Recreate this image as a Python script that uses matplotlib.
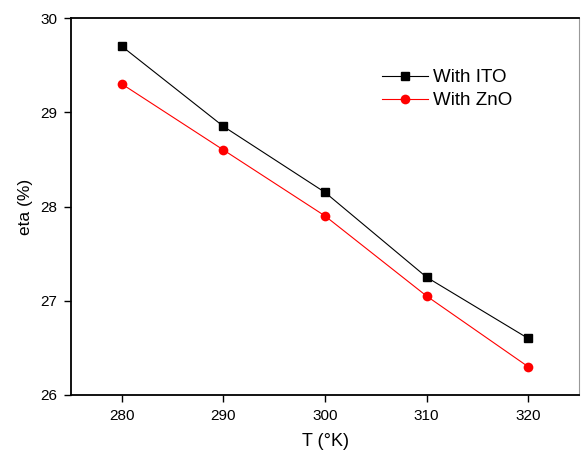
import matplotlib
matplotlib.use("Agg")
import matplotlib.pyplot as plt

plt.rcParams['font.family'] = ['Liberation Sans', 'DejaVu Sans']

# temperature (K) and efficiency (%) for both electrodes
temp = [280, 290, 300, 310, 320]
eta_ito = [29.70, 28.85, 28.15, 27.25, 26.60]
eta_zno = [29.30, 28.60, 27.90, 27.05, 26.30]

fig = plt.figure(figsize=(5.82, 4.55), dpi=100)
ax = fig.add_axes([71 / 582, 60 / 455, 508 / 582, 377 / 455])

ax.plot(temp, eta_ito, color='black', lw=0.8, marker='s', ms=6,
        label='With ITO')
ax.plot(temp, eta_zno, color='red', lw=0.8, marker='o', ms=7,
        markeredgewidth=0, label='With ZnO')

ax.set_xlim(275, 325)
ax.set_ylim(26, 30)
ax.set_xticks(temp)
ax.set_yticks([26, 27, 28, 29, 30])

for side in ['left', 'bottom']:
    ax.spines[side].set_linewidth(1.3)
ax.spines['top'].set_linewidth(1.3)
ax.spines['right'].set_linewidth(0.8)
ax.spines['right'].set_color('#999999')

ax.tick_params(direction='out', length=5, width=1, labelsize=11, pad=5)

ax.set_xlabel('T (°K)', fontsize=13, labelpad=7)
ax.set_ylabel('eta (%)', fontsize=12.5, labelpad=5)

ax.legend(loc='upper left', bbox_to_anchor=(0.612, 0.864), frameon=False,
          fontsize=13.5, handlelength=2.45, handletextpad=0.27,
          labelspacing=0.3, borderpad=0, borderaxespad=0)

fig.savefig('out.png', dpi=100)
